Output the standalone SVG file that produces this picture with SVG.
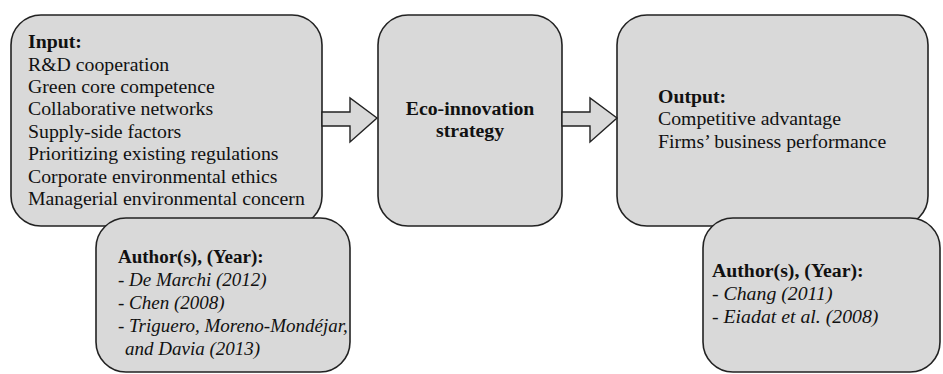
<svg xmlns="http://www.w3.org/2000/svg" width="943" height="374" viewBox="0 0 943 374">
<style>
.box{fill:#d9d9d9;stroke:#222;stroke-width:1.6}
.arr{fill:#d9d9d9;stroke:#222;stroke-width:1.4;stroke-linejoin:miter}
.b{font-weight:bold}
.i{font-style:italic}
</style>
<rect width="943" height="374" fill="#fff"/>
<g id="input">
<rect class="box" x="11" y="15" width="311" height="211" rx="30" ry="30"/>
<text x="28" y="48" class="b" font-family="'Liberation Serif', serif" font-size="19.8" fill="#111">Input:</text>
<text x="28" y="71" font-family="'Liberation Serif', serif" font-size="19.8" fill="#111">R&amp;D cooperation</text>
<text x="28" y="93" font-family="'Liberation Serif', serif" font-size="19.8" fill="#111">Green core competence</text>
<text x="28" y="115" font-family="'Liberation Serif', serif" font-size="19.8" fill="#111">Collaborative networks</text>
<text x="28" y="138" font-family="'Liberation Serif', serif" font-size="19.8" fill="#111">Supply-side factors</text>
<text x="28" y="160" font-family="'Liberation Serif', serif" font-size="19.8" fill="#111">Prioritizing existing regulations</text>
<text x="28" y="183" font-family="'Liberation Serif', serif" font-size="19.8" fill="#111">Corporate environmental ethics</text>
<text x="28" y="205" font-family="'Liberation Serif', serif" font-size="19.8" fill="#111">Managerial environmental concern</text>
</g>
<g id="input-authors">
<rect class="box" x="96" y="218" width="254" height="154" rx="30" ry="30"/>
<text x="118" y="263" class="b" font-family="'Liberation Serif', serif" font-size="19" fill="#111">Author(s), (Year):</text>
<text x="118" y="286" class="i" font-family="'Liberation Serif', serif" font-size="19" fill="#111">- De Marchi (2012)</text>
<text x="118" y="309" class="i" font-family="'Liberation Serif', serif" font-size="19" fill="#111">- Chen (2008)</text>
<text x="118" y="332" class="i" font-family="'Liberation Serif', serif" font-size="19" fill="#111">- Triguero, Moreno-Mondéjar,</text>
<text x="125" y="355" class="i" font-family="'Liberation Serif', serif" font-size="19" fill="#111">and Davia (2013)</text>
</g>
<g id="strategy">
<rect class="box" x="378" y="15" width="184" height="211" rx="30" ry="30"/>
<text x="470" y="115" class="b" text-anchor="middle" font-family="'Liberation Serif', serif" font-size="19.8" fill="#111">Eco-innovation</text>
<text x="470" y="137" class="b" text-anchor="middle" font-family="'Liberation Serif', serif" font-size="19.8" fill="#111">strategy</text>
</g>
<g id="output">
<rect class="box" x="617" y="15" width="311" height="211" rx="30" ry="30"/>
<text x="658" y="103" class="b" font-family="'Liberation Serif', serif" font-size="19.8" fill="#111">Output:</text>
<text x="658" y="125" font-family="'Liberation Serif', serif" font-size="19.8" fill="#111">Competitive advantage</text>
<text x="658" y="148" font-family="'Liberation Serif', serif" font-size="19.8" fill="#111">Firms’ business performance</text>
</g>
<g id="output-authors">
<rect class="box" x="703" y="218" width="237" height="154" rx="30" ry="30"/>
<text x="712" y="277" class="b" font-family="'Liberation Serif', serif" font-size="19.8" fill="#111">Author(s), (Year):</text>
<text x="712" y="300" class="i" font-family="'Liberation Serif', serif" font-size="19.8" fill="#111">- Chang (2011)</text>
<text x="712" y="323" class="i" font-family="'Liberation Serif', serif" font-size="19.8" fill="#111">- Eiadat et al. (2008)</text>
</g>
<g id="connectors">
<polygon class="arr" points="322,112 350,112 350,98 377,118 350,142 350,126 322,126"/>
<polygon class="arr" points="562,112 590,112 590,98 617,118 590,142 590,126 562,126"/>
</g>
</svg>
